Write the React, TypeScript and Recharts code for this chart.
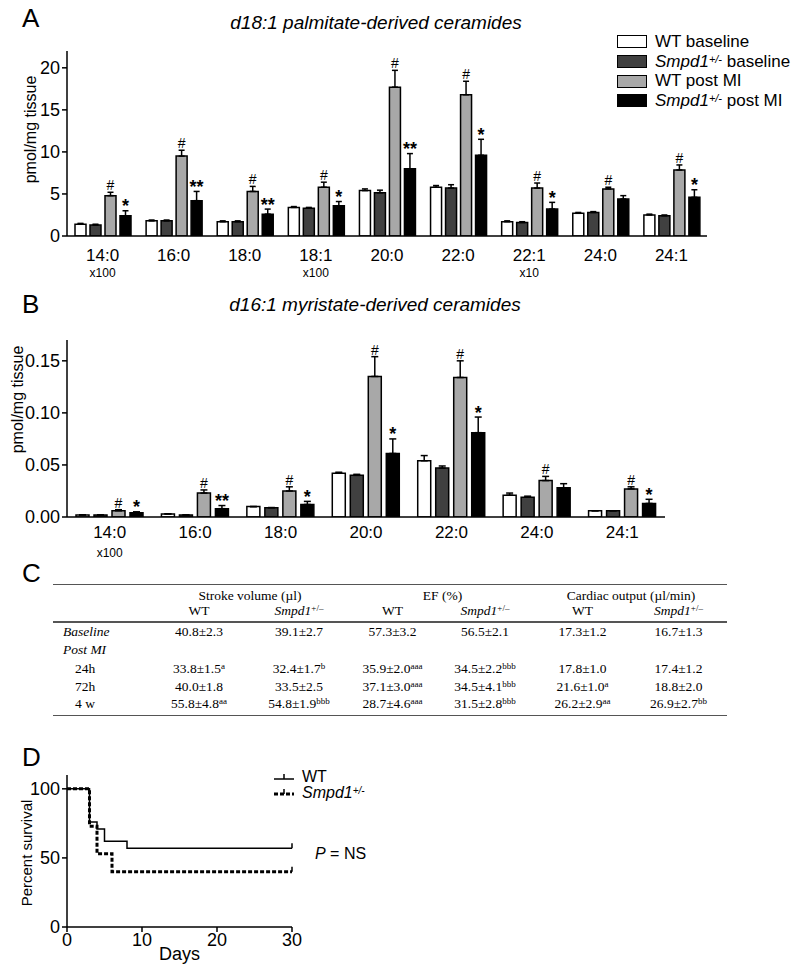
import React from 'react';
import { BarChart, Bar, XAxis, YAxis, ErrorBar, LabelList, Legend, LineChart, Line } from 'recharts';

const SANS = '"Liberation Sans", Arial, Helvetica, sans-serif';
const SERIF = '"Liberation Serif", "Times New Roman", serif';

// Panel A: d18:1 palmitate-derived ceramides (pmol/mg tissue)
const speciesA = ['14:0', '16:0', '18:0', '18:1', '20:0', '22:0', '22:1', '24:0', '24:1'];
const multA = ['x100', '', '', 'x100', '', '', 'x10', '', ''];
const wtBaseA = [1.4, 1.8, 1.7, 3.4, 5.4, 5.8, 1.7, 2.7, 2.5];
const wtBaseErrA = [0.1, 0.1, 0.1, 0.1, 0.2, 0.2, 0.1, 0.1, 0.1];
const hetBaseA = [1.3, 1.8, 1.7, 3.3, 5.15, 5.7, 1.6, 2.8, 2.4];
const hetBaseErrA = [0.1, 0.1, 0.1, 0.1, 0.3, 0.4, 0.1, 0.1, 0.1];
const wtMiA = [4.8, 9.5, 5.3, 5.8, 17.7, 16.8, 5.7, 5.6, 7.85];
const wtMiErrA = [0.4, 0.7, 0.6, 0.6, 2.0, 1.6, 0.6, 0.2, 0.6];
const hetMiA = [2.4, 4.2, 2.6, 3.6, 8.0, 9.6, 3.2, 4.4, 4.6];
const hetMiErrA = [0.6, 1.1, 0.6, 0.5, 1.8, 1.9, 0.8, 0.4, 0.9];
const wtMiMarksA = ['#', '#', '#', '#', '#', '#', '#', '#', '#'];
const hetMiMarksA = ['*', '**', '**', '*', '**', '*', '*', '', '*'];

// Panel B: d16:1 myristate-derived ceramides
const speciesB = ['14:0', '16:0', '18:0', '20:0', '22:0', '24:0', '24:1'];
const multB = ['x100', '', '', '', '', '', ''];
const wtBaseB = [0.002, 0.003, 0.01, 0.042, 0.054, 0.021, 0.006];
const wtBaseErrB = [0, 0, 0, 0.001, 0.005, 0.002, 0];
const hetBaseB = [0.002, 0.002, 0.009, 0.04, 0.047, 0.019, 0.006];
const hetBaseErrB = [0, 0, 0, 0.001, 0.002, 0.001, 0];
const wtMiB = [0.006, 0.023, 0.025, 0.135, 0.134, 0.035, 0.027];
const wtMiErrB = [0.001, 0.003, 0.004, 0.019, 0.016, 0.004, 0.002];
const hetMiB = [0.004, 0.008, 0.012, 0.061, 0.081, 0.028, 0.013];
const hetMiErrB = [0.001, 0.003, 0.003, 0.014, 0.015, 0.004, 0.004];
const wtMiMarksB = ['#', '#', '#', '#', '#', '#', '#'];
const hetMiMarksB = ['*', '**', '*', '*', '*', '', '*'];

// Panel C: echo table
const tableGroups = ['Stroke volume (µl)', 'EF (%)', 'Cardiac output (µl/min)'];
const baselineRow = ['40.8±2.3', '39.1±2.7', '57.3±3.2', '56.5±2.1', '17.3±1.2', '16.7±1.3'];
const postRows = [
  { label: '24h', cells: [['33.8±1.5', 'a'], ['32.4±1.7', 'b'], ['35.9±2.0', 'aaa'], ['34.5±2.2', 'bbb'], ['17.8±1.0', ''], ['17.4±1.2', '']] },
  { label: '72h', cells: [['40.0±1.8', ''], ['33.5±2.5', ''], ['37.1±3.0', 'aaa'], ['34.5±4.1', 'bbb'], ['21.6±1.0', 'a'], ['18.8±2.0', '']] },
  { label: '4 w', cells: [['55.8±4.8', 'aa'], ['54.8±1.9', 'bbb'], ['28.7±4.6', 'aaa'], ['31.5±2.8', 'bbb'], ['26.2±2.9', 'aa'], ['26.9±2.7', 'bb']] },
];

// Panel D: Kaplan-Meier survival
const wtDays = [0, 3, 4, 5, 8, 30];
const wtSurvival = [100, 76, 71, 62, 57, 57];
const hetDays = [0, 3, 4, 6, 30];
const hetSurvival = [100, 73, 53, 40, 40];

const FILLS = ['#ffffff', '#404040', '#a8a8a8', '#000000'];

function buildRows(cats: string[], cols: number[][], errs: number[][]) {
  return cats.map((cat, i) => ({
    cat,
    wtBase: cols[0][i], hetBase: cols[1][i], wtMi: cols[2][i], hetMi: cols[3][i],
    wtBaseErr: [0, errs[0][i]], hetBaseErr: [0, errs[1][i]], wtMiErr: [0, errs[2][i]], hetMiErr: [0, errs[3][i]],
  }));
}

const dataA = buildRows(speciesA, [wtBaseA, hetBaseA, wtMiA, hetMiA], [wtBaseErrA, hetBaseErrA, wtMiErrA, hetMiErrA]);
const dataB = buildRows(speciesB, [wtBaseB, hetBaseB, wtMiB, hetMiB], [wtBaseErrB, hetBaseErrB, wtMiErrB, hetMiErrB]);
const survWT = wtDays.map((day, i) => ({ day, pct: wtSurvival[i] }));
const survHet = hetDays.map((day, i) => ({ day, pct: hetSurvival[i] }));

function markLabel(marks: string[], values: number[], errs: number[]) {
  return (props: any) => {
    const vb = props.viewBox || props;
    const i = props.index;
    const mark = marks[i];
    if (!mark || !vb || !values[i]) return <g />;
    const pxPerUnit = vb.height / values[i];
    const errTop = vb.y - errs[i] * pxPerUnit;
    const star = mark.startsWith('*');
    return (
      <text x={vb.x + vb.width / 2} y={star ? errTop + 1.5 : errTop - 2} textAnchor="middle"
        fontSize={star ? 18 : 14} fontWeight={star ? 'bold' : 'normal'} fill="#000">{mark}</text>
    );
  };
}

function categoryTick(subs: string[], mainDy: number, subDy: number) {
  return (props: any) => {
    const { x, y, payload } = props;
    const sub = subs[payload.index];
    return (
      <g>
        <text x={x} y={y + mainDy} textAnchor="middle" fontSize={17} fill="#000">{payload.value}</text>
        {sub ? <text x={x} y={y + subDy} textAnchor="middle" fontSize={12} fill="#000">{sub}</text> : null}
      </g>
    );
  };
}

function RotatedTitle(props: any) {
  const { viewBox, text, cx, shift, size } = props;
  if (!viewBox) return null;
  const y = viewBox.y + viewBox.height / 2 + shift;
  return (
    <text x={cx} y={y} transform={`rotate(-90, ${cx}, ${y})`} textAnchor="middle" dy="0.35em" fontSize={size} fill="#000">{text}</text>
  );
}

const Het = ({ size }: { size?: number }) => (
  <span><i>Smpd1</i><sup style={{ fontSize: size ?? 11, fontStyle: 'italic', verticalAlign: 'top', position: 'relative', top: -2 }}>+/-</sup></span>
);

const legendLabelsA = [<>WT baseline</>, <><Het /> baseline</>, <>WT post MI</>, <><Het /> post MI</>];

const renderLegendA = () => (
  <div style={{ fontFamily: SANS, fontSize: 17, lineHeight: '19.7px' }}>
    {legendLabelsA.map((lab, i) => (
      <div key={i} style={{ display: 'flex', alignItems: 'center', height: 19.7 }}>
        <div style={{ width: 28, height: 11, background: FILLS[i], border: '1.5px solid #000', marginRight: 8 }} />
        <div>{lab}</div>
      </div>
    ))}
  </div>
);

const renderLegendD = () => (
  <div style={{ fontFamily: SANS, fontSize: 16, lineHeight: '16px' }}>
    <div style={{ display: 'flex', alignItems: 'center', height: 16 }}>
      <svg width={22} height={10}><line x1={0} y1={7} x2={20} y2={7} stroke="#000" strokeWidth={1.5} /><line x1={10} y1={7} x2={10} y2={2} stroke="#000" strokeWidth={1.5} /></svg>
      <span style={{ marginLeft: 6 }}>WT</span>
    </div>
    <div style={{ display: 'flex', alignItems: 'center', height: 16 }}>
      <svg width={22} height={10}><line x1={0} y1={6} x2={20} y2={6} stroke="#000" strokeWidth={3} strokeDasharray="4 2" /><line x1={10} y1={6} x2={10} y2={1} stroke="#000" strokeWidth={1.5} /></svg>
      <span style={{ marginLeft: 6 }}><Het size={10} /></span>
    </div>
  </div>
);

const censorDot = (n: number) => (props: any) => {
  const { cx, cy, index } = props;
  if (index !== n - 1) return <g key={index} />;
  return <line key={index} x1={cx} y1={cy} x2={cx} y2={cy - 5} stroke="#000" strokeWidth={1.5} />;
};

const axisStyle = { stroke: '#000', strokeWidth: 1.5 };

function CeramideChart(props: any) {
  const { data, width, height, top, right, xHeight, domain, ticks, fmt, subs, mainDy, subDy,
    barSize, barGap, marks, labelShift, labelX, legend, errW } = props;
  const keys = ['wtBase', 'hetBase', 'wtMi', 'hetMi'];
  const names = ['WT baseline', 'Smpd1+/- baseline', 'WT post MI', 'Smpd1+/- post MI'];
  return (
    <BarChart width={width} height={height} data={data} margin={{ top, right, left: 0, bottom: 0 }}
      barSize={barSize} barGap={barGap} style={{ fontFamily: SANS }}>
      <XAxis dataKey="cat" height={xHeight} interval={0} tickLine={false} tickSize={0} tickMargin={0}
        axisLine={axisStyle} tick={categoryTick(subs, mainDy, subDy)} />
      <YAxis width={67} domain={domain} ticks={ticks} tickFormatter={fmt} tickSize={5} tickMargin={2}
        axisLine={axisStyle} tickLine={axisStyle} tick={{ fill: '#000', fontSize: 18 }} allowDataOverflow
        label={<RotatedTitle text="pmol/mg tissue" cx={labelX} shift={labelShift} size={16} />} />
      {legend ? (
        <Legend layout="vertical" align="center" verticalAlign="middle" content={renderLegendA}
          wrapperStyle={{ left: 617, top: 32, width: 190 }} />
      ) : null}
      {keys.map((k, i) => (
        <Bar key={k} dataKey={k} name={names[i]} fill={FILLS[i]} stroke="#000" strokeWidth={1.5} isAnimationActive={false}>
          <ErrorBar dataKey={`${k}Err`} width={errW} stroke="#000" strokeWidth={1.5} direction="y" />
          {i >= 2 ? <LabelList dataKey={k} content={markLabel(marks[i - 2], marks[i], marks[i + 2])} /> : null}
        </Bar>
      ))}
    </BarChart>
  );
}

const Title = ({ text, cx, cy }: { text: string; cx: number; cy: number }) => (
  <div style={{ position: 'absolute', left: cx - 200, top: cy - 10, width: 400, textAlign: 'center', fontSize: 19, lineHeight: '20px', fontStyle: 'italic' }}>{text}</div>
);

const Letter = ({ l, cy }: { l: string; cy: number }) => (
  <div style={{ position: 'absolute', left: 22, top: cy - 13, fontSize: 26, lineHeight: '26px' }}>{l}</div>
);

const COLW = [97, 98, 102, 85, 100, 95, 97];

function TableRow({ top, children }: { top: number; children: React.ReactNode }) {
  return <div style={{ position: 'absolute', left: 53, top: top - 9, height: 18, lineHeight: '18px', display: 'flex', width: 674 }}>{children}</div>;
}

function Cell({ w, children, align, pad }: { w: number; children?: React.ReactNode; align?: any; pad?: number }) {
  return <div style={{ width: w, textAlign: align ?? 'center', paddingLeft: pad ?? 0, boxSizing: 'border-box', whiteSpace: 'nowrap' }}>{children}</div>;
}

const Sup = ({ t }: { t: string }) => (t ? <sup style={{ fontSize: 9, verticalAlign: 'top', position: 'relative', top: -3 }}>{t}</sup> : null);

function EchoTable() {
  const rule = (y: number) => <div style={{ position: 'absolute', left: 53, top: y, width: 674, height: 1.5, background: '#555' }} />;
  return (
    <div style={{ position: 'absolute', left: 0, top: 0, fontFamily: SERIF, fontSize: 13.5 }}>
      {rule(583.5)}
      <TableRow top={596}>
        <Cell w={COLW[0]} />
        <Cell w={COLW[1] + COLW[2]}>{tableGroups[0]}</Cell>
        <Cell w={COLW[3] + COLW[4]}>{tableGroups[1]}</Cell>
        <Cell w={COLW[5] + COLW[6]}>{tableGroups[2]}</Cell>
      </TableRow>
      <TableRow top={611}>
        <Cell w={COLW[0]} />
        {[0, 1, 2, 3, 4, 5].map((c) => (
          <Cell key={c} w={COLW[c + 1]}>{c % 2 === 0 ? 'WT' : <span><i>Smpd1</i><Sup t="+/–" /></span>}</Cell>
        ))}
      </TableRow>
      {rule(621)}
      <TableRow top={632}>
        <Cell w={COLW[0]} align="left" pad={10}><i>Baseline</i></Cell>
        {baselineRow.map((v, c) => <Cell key={c} w={COLW[c + 1]}>{v}</Cell>)}
      </TableRow>
      <TableRow top={650}>
        <Cell w={COLW[0]} align="left" pad={10}><i>Post MI</i></Cell>
      </TableRow>
      {postRows.map((row, r) => (
        <TableRow key={r} top={669 + r * 17.5}>
          <Cell w={COLW[0]} align="left" pad={22}>{row.label}</Cell>
          {row.cells.map((cell, c) => <Cell key={c} w={COLW[c + 1]}>{cell[0]}<Sup t={cell[1]} /></Cell>)}
        </TableRow>
      ))}
      {rule(714.5)}
    </div>
  );
}

export default function App() {
  return (
    <div style={{ position: 'absolute', left: 0, top: 0, width: 800, height: 971, background: '#fff', fontFamily: SANS, color: '#000', overflow: 'hidden' }}>
      <Letter l="A" cy={18} />
      <Title text="d18:1 palmitate-derived ceramides" cx={376} cy={23} />
      <div style={{ position: 'absolute', left: 0, top: 0 }}>
        <CeramideChart data={dataA} width={720} height={290} top={51} right={13} xHeight={54}
          domain={[0, 22]} ticks={[0, 5, 10, 15, 20]} fmt={(v: number) => String(v)}
          subs={multA} mainDy={25} subDy={41} barSize={11} barGap={4} errW={3} labelShift={-14} labelX={30} legend
          marks={[wtMiMarksA, hetMiMarksA, wtMiA, hetMiA, wtMiErrA, hetMiErrA]} />
      </div>

      <Letter l="B" cy={304} />
      <Title text="d16:1 myristate-derived ceramides" cx={375} cy={305} />
      <div style={{ position: 'absolute', left: 0, top: 300 }}>
        <CeramideChart data={dataB} width={680} height={270} top={40} right={15} xHeight={53}
          domain={[0, 0.17]} ticks={[0, 0.05, 0.1, 0.15]} fmt={(v: number) => v.toFixed(2)}
          subs={multB} mainDy={21} subDy={40} barSize={13} barGap={5} errW={3.5} labelShift={-29} labelX={17}
          marks={[wtMiMarksB, hetMiMarksB, wtMiB, hetMiB, wtMiErrB, hetMiErrB]} />
      </div>

      <Letter l="C" cy={573} />
      <EchoTable />

      <Letter l="D" cy={757} />
      <div style={{ position: 'absolute', left: 0, top: 760 }}>
        <LineChart width={420} height={207} margin={{ top: 15, right: 128, left: 0, bottom: 0 }} style={{ fontFamily: SANS }}>
          <XAxis type="number" dataKey="day" domain={[0, 30]} ticks={[0, 10, 20, 30]} height={40}
            tickSize={5} tickMargin={1} axisLine={axisStyle} tickLine={axisStyle} tick={{ fill: '#000', fontSize: 18 }}
            label={{ value: 'Days', position: 'insideBottom', offset: 7, fill: '#000', fontSize: 18 }} />
          <YAxis type="number" dataKey="pct" width={67} domain={[0, 110]} ticks={[0, 50, 100]}
            tickSize={5} tickMargin={2} axisLine={axisStyle} tickLine={axisStyle} tick={{ fill: '#000', fontSize: 18 }}
            label={<RotatedTitle text="Percent survival" cx={27} shift={2} size={15} />} />
          <Legend layout="vertical" align="center" verticalAlign="middle" content={renderLegendD}
            wrapperStyle={{ left: 274, top: 9, width: 140 }} />
          <Line data={survWT} dataKey="pct" name="WT" type="stepAfter" stroke="#000" strokeWidth={1.5}
            dot={censorDot(survWT.length)} activeDot={false} isAnimationActive={false} />
          <Line data={survHet} dataKey="pct" name="Smpd1+/-" type="stepAfter" stroke="#000" strokeWidth={3}
            strokeDasharray="4 2" dot={censorDot(survHet.length)} activeDot={false} isAnimationActive={false} />
        </LineChart>
      </div>
      <div style={{ position: 'absolute', left: 315, top: 845, fontSize: 16, lineHeight: '18px' }}><i>P</i> = NS</div>
    </div>
  );
}
